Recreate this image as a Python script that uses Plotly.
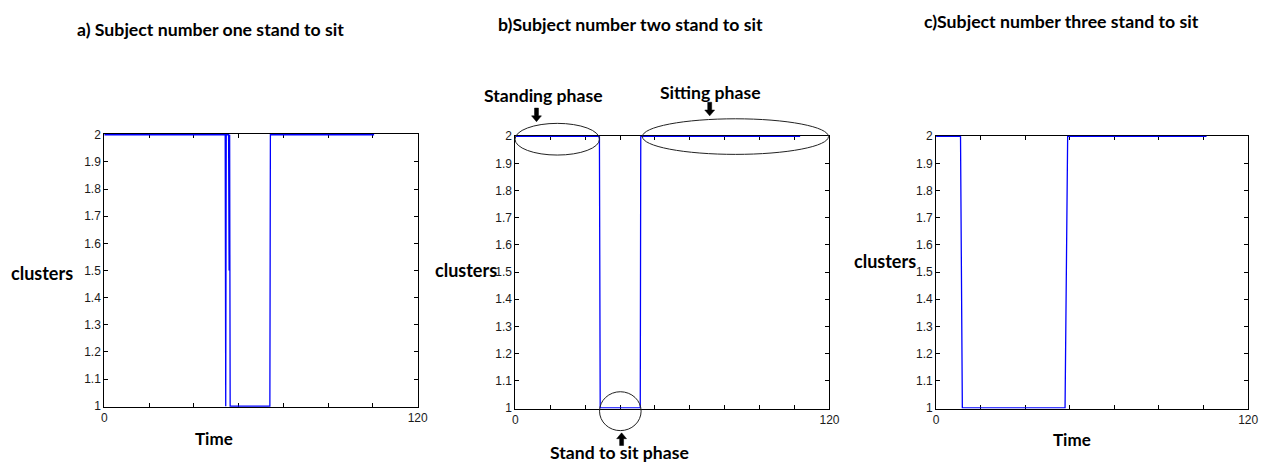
import plotly.graph_objects as go

W, H = 1272, 470

# ---- data ----
time_a = [0, 46.3, 46.5, 46.7, 47.6, 47.8, 48.0, 48.2, 63.4, 63.6, 103.3]
clusters_a = [2, 2, 1, 2, 2, 1.5, 2, 1, 1, 2, 2]

time_b = [0, 32.1, 32.4, 47.7, 47.9, 108.8]
clusters_b = [2, 2, 1, 1, 2, 2]

time_c = [0, 9.4, 10.1, 49.6, 50.6, 104.0]
clusters_c = [2, 2, 1, 1, 2, 2]

y_ticks = [1.0, 1.1, 1.2, 1.3, 1.4, 1.5, 1.6, 1.7, 1.8, 1.9, 2.0]
y_ticklabels = ["1", "1.1", "1.2", "1.3", "1.4", "1.5", "1.6", "1.7", "1.8", "1.9", "2"]

titles = ["a) Subject number one stand to sit",
          "b)Subject number two stand to sit",
          "c)Subject number three stand to sit"]

x_max = 120
n_int = [7, 9, 7]

def px(x):
    return x / W

def py(y):
    return 1 - y / H

# domains derived from the reference layout (pixels)
dom_x = [(102.3, 419), (517.7, 835), (942.7, 1258)]
dom_y = [(131.7, 412.3), (133.3, 414), (133.3, 414)]

fig = go.Figure()
series = [(time_a, clusters_a), (time_b, clusters_b), (time_c, clusters_c)]
for i, (t, c) in enumerate(series):
    sfx = "" if i == 0 else str(i + 1)
    fig.add_trace(go.Scatter(x=t, y=c, mode="lines",
                             line=dict(color="#0000ff", width=1.3),
                             xaxis="x" + sfx, yaxis="y" + sfx,
                             hoverinfo="skip"))
    step = x_max / n_int[i]
    tv = [step * k for k in range(n_int[i] + 1)]
    tt = [""] * len(tv)
    tt[0] = "0"
    tt[-1] = "120"
    common = dict(showline=True, linecolor="black", linewidth=1, mirror="allticks",
                  ticks="inside", ticklen=4, tickcolor="black", tickwidth=1,
                  showgrid=False, zeroline=False, layer="below traces",
                  tickfont=dict(family="Liberation Sans, Arial", size=12, color="#1a1a1a"))
    fig.update_layout(**{
        "xaxis" + sfx: dict(domain=[px(dom_x[i][0]), px(dom_x[i][1])],
                            range=[0, x_max], tickvals=tv, ticktext=tt,
                            anchor="y" + sfx, **common),
        "yaxis" + sfx: dict(domain=[py(dom_y[i][1]), py(dom_y[i][0])],
                            range=[0.9975, 2.0025], tickvals=y_ticks,
                            ticktext=y_ticklabels, anchor="x" + sfx, **common),
    })

bold = "Lato"
ann = []
def text(s, xc, yc, size):
    ann.append(dict(text="<b>%s</b>" % s, x=px(xc), y=py(yc), xref="paper", yref="paper",
                    xanchor="center", yanchor="middle", showarrow=False,
                    font=dict(family=bold, size=size, color="black")))

text(titles[0], 210, 24, 17.7)
text(titles[1], 634, 19, 17.7)
text(titles[2], 1069, 16, 17.7)
text("clusters", 39, 275, 18)
text("clusters", 468, 271, 18)
text("clusters", 891, 262, 18)
text("Time", 213, 445, 17)
text("Time", 1080, 446, 17)
text("Standing phase", 546, 92, 17.6)
text("Sitting phase", 715, 89, 17.6)
text("Stand to sit phase", 623, 459, 17.6)

shapes = []
def ellipse(cx, cy, rx, ry):
    shapes.append(dict(type="circle", xref="paper", yref="paper",
                       x0=px(cx - rx), x1=px(cx + rx), y0=py(cy + ry), y1=py(cy - ry),
                       line=dict(color="#222222", width=1), layer="above"))

ellipse(560, 137, 42.7, 16.3)
ellipse(740, 134.3, 94, 18.3)
ellipse(623.7, 416.7, 21, 20)

def arrow(cx, tail, tip):
    d = 1 if tip > tail else -1
    hl = 6
    sw = 2
    hw = 5
    pts = [(cx - sw, tail), (cx + sw, tail), (cx + sw, tip - d * hl), (cx + hw, tip - d * hl),
           (cx, tip), (cx - hw, tip - d * hl), (cx - sw, tip - d * hl)]
    path = "M " + " L ".join("%f,%f" % (px(x), py(y)) for x, y in pts) + " Z"
    shapes.append(dict(type="path", xref="paper", yref="paper", path=path,
                       fillcolor="black", line=dict(color="black", width=0.5)))

arrow(539, 105, 119)
arrow(714, 99, 113)
arrow(625, 452, 439)

fig.update_layout(width=W, height=H, margin=dict(l=0, r=0, t=0, b=0),
                  paper_bgcolor="white", plot_bgcolor="white", showlegend=False,
                  annotations=ann, shapes=shapes)

fig.write_html("out.html")
